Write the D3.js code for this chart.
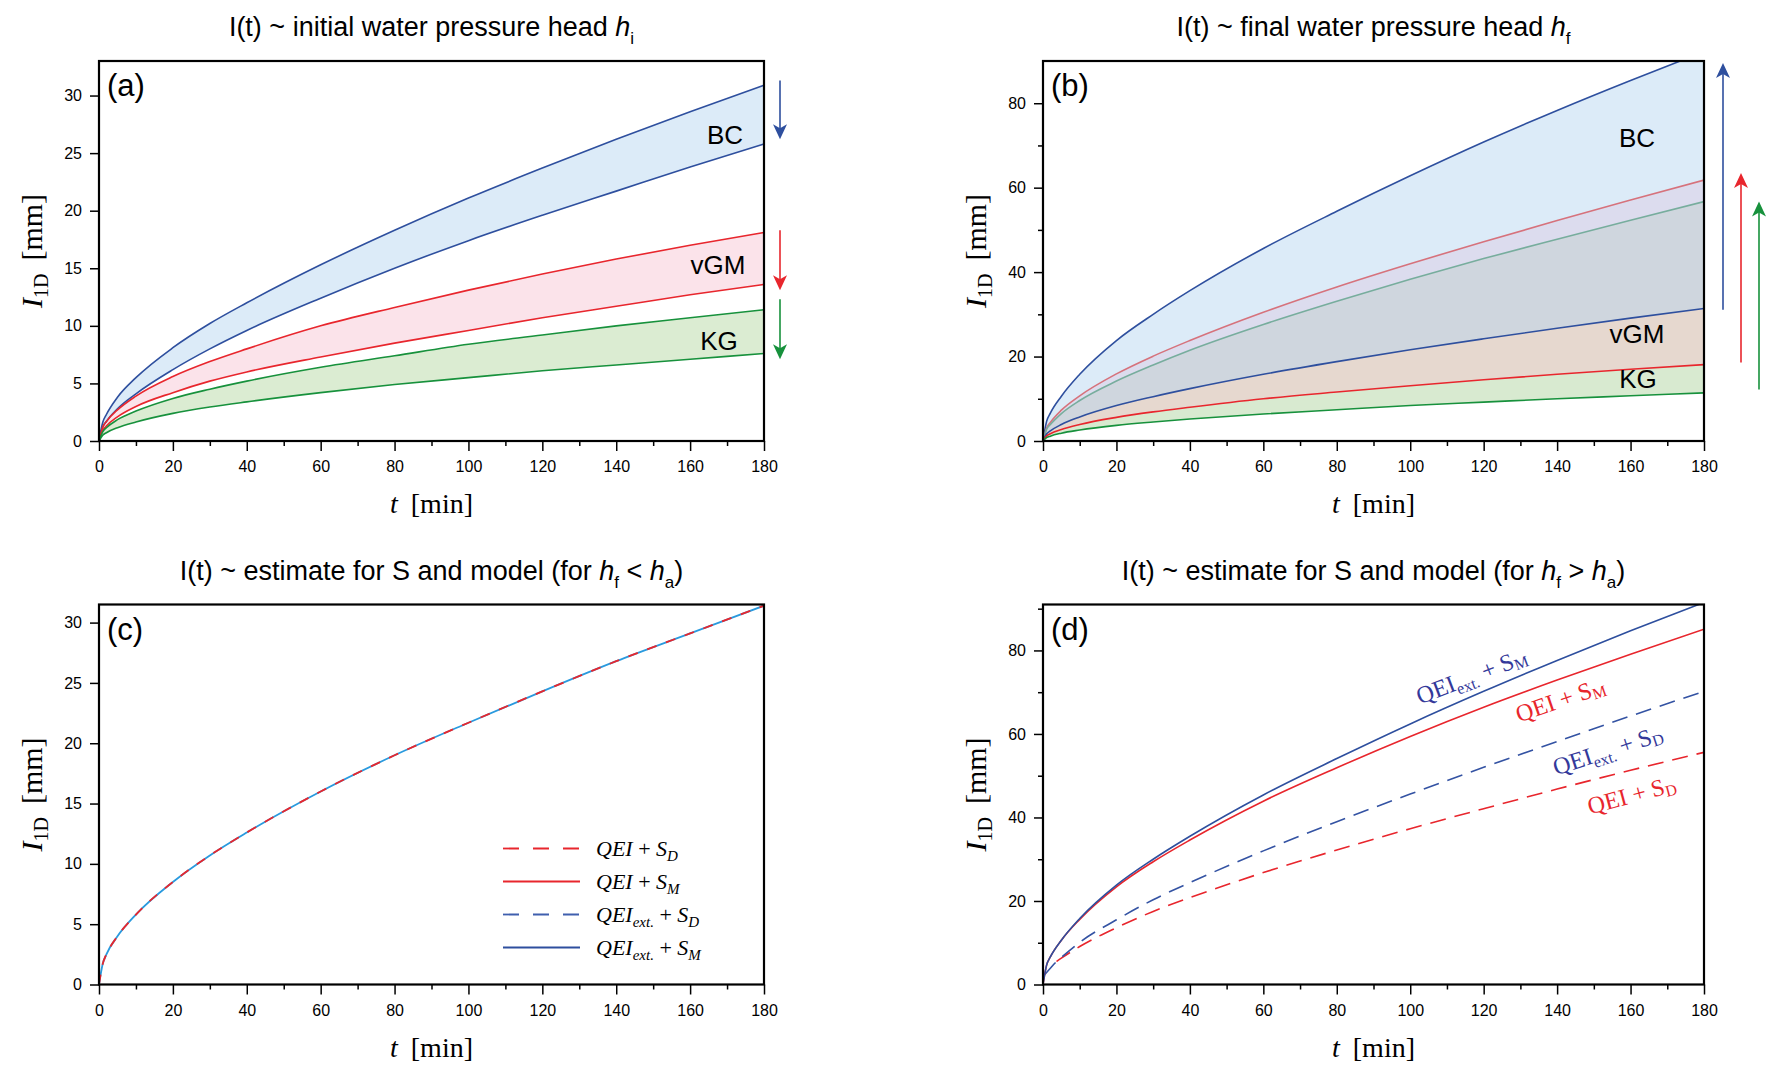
<!DOCTYPE html>
<html>
<head>
<meta charset="utf-8">
<script src="https://cdn.jsdelivr.net/npm/d3@7"></script>
<style>
  body { margin: 0; background: #fff; }
  svg { display: block; font-family: "Liberation Sans", Arial, sans-serif; }
  .tick text { font-size: 16px; fill: #000; font-family: "Liberation Sans", Arial, sans-serif; }
  .tick line { stroke: #000; stroke-width: 1.5; }
  .serif { font-family: "Liberation Serif", "Times New Roman", serif; }
</style>
</head>
<body>
<svg id="chart" width="1787" height="1083"></svg>
<script>
// time grid (min)
var tGrid = [0, 1, 2, 5, 10, 20, 30, 40, 60, 80, 100, 120, 140, 160, 180];

// (a) initial pressure head
var aBcUpper  = [0, 1.6, 2.3, 3.8, 5.5, 8.1, 10.2, 12.0, 15.3, 18.3, 21.1, 23.7, 26.2, 28.6, 30.9];
var aBcLower  = [0, 1.2, 1.7, 2.8, 4.1, 6.2, 8.0, 9.6, 12.4, 15.0, 17.4, 19.6, 21.7, 23.8, 25.8];
var aVgmUpper = [0, 1.2, 1.7, 2.7, 3.9, 5.6, 6.9, 8.0, 10.0, 11.6, 13.1, 14.5, 15.8, 17.0, 18.1];
var aVgmLower = [0, 0.9, 1.3, 2.1, 3.0, 4.2, 5.2, 6.0, 7.3, 8.5, 9.6, 10.7, 11.7, 12.7, 13.6];
var aKgUpper  = [0, 0.8, 1.15, 1.85, 2.6, 3.7, 4.5, 5.2, 6.4, 7.4, 8.4, 9.2, 10.0, 10.7, 11.4];
var aKgLower  = [0, 0.5, 0.72, 1.15, 1.65, 2.4, 2.95, 3.4, 4.2, 4.9, 5.5, 6.1, 6.6, 7.1, 7.6];

// (b) final pressure head
var bBcUpper  = [0, 4.7, 6.6, 10.6, 15.8, 23.8, 30.0, 35.6, 45.6, 54.4, 62.8, 70.8, 78.3, 85.4, 92.2];
var bVgmUpper = [0, 3.1, 4.4, 7.3, 10.7, 15.9, 20.1, 23.8, 30.5, 36.5, 42.0, 47.2, 52.2, 57.1, 61.8];
var bKgUpper  = [0, 2.8, 3.9, 6.5, 9.6, 14.2, 18.0, 21.5, 27.6, 33.1, 38.3, 43.2, 47.8, 52.3, 56.7];
var bBcLower  = [0, 1.7, 2.4, 3.9, 5.7, 8.4, 10.5, 12.4, 15.8, 18.8, 21.6, 24.2, 26.7, 29.1, 31.4];
var bVgmLower = [0, 1.2, 1.7, 2.7, 3.9, 5.6, 6.9, 8.0, 10.0, 11.6, 13.1, 14.5, 15.8, 17.0, 18.1];
var bKgLower  = [0, 0.8, 1.15, 1.85, 2.6, 3.7, 4.5, 5.2, 6.4, 7.4, 8.4, 9.2, 10.0, 10.7, 11.4];

// (c) h_f < h_a : all four estimates coincide
var cCurve = [0, 1.7, 2.5, 4.0, 5.8, 8.5, 10.7, 12.6, 16.0, 19.0, 21.7, 24.3, 26.8, 29.1, 31.4];

// (d) h_f > h_a
var dExtSm = [0, 4.7, 6.6, 10.6, 15.8, 23.8, 30.0, 35.5, 45.4, 54.1, 62.4, 70.2, 77.6, 84.7, 91.5];
var dQeiSm = [0, 4.7, 6.6, 10.6, 15.6, 23.4, 29.4, 34.6, 43.9, 51.9, 59.4, 66.4, 72.9, 79.1, 85.1];
var dExtSdT = [0.5, 2, 3.7, 5, 10, 20, 30, 40, 60, 80, 100, 120, 140, 160, 180];
var dExtSd  = [2.4, 3.9, 5.5, 6.5, 10.1, 15.5, 20.3, 24.4, 32.0, 39.0, 45.6, 52.0, 58.2, 64.3, 70.2];
var dQeiSdT = [3.7, 5, 10, 20, 30, 40, 60, 80, 100, 120, 140, 160, 180];
var dQeiSd  = [5.5, 6.3, 9.1, 13.6, 17.5, 20.8, 26.8, 32.2, 37.3, 42.1, 46.8, 51.3, 55.6];

// ticks
var xTicks = [0, 20, 40, 60, 80, 100, 120, 140, 160, 180];
var xMinor = [10, 30, 50, 70, 90, 110, 130, 150, 170];
var yTicks30 = [0, 5, 10, 15, 20, 25, 30];
var yTicks80 = [0, 20, 40, 60, 80];
var bYMinor = [10, 30, 50, 70];
var dYMinor = [10, 30, 50, 70, 90];

var BLUE = '#2e4f9e', RED = '#e8262d', GREEN = '#17913c';

var svg = d3.select('#chart');
var defs = svg.append('defs');

function zip(ts, vs) {
    return ts.map(function(t, i){ return {t: t, v: vs[i]}; });
}

function makePanel(id, left, top, w, h, yMax, yTicks, yMinor) {
    var p = {};
    p.x = d3.scaleLinear().domain([0, 180]).range([0, w]);
    p.y = d3.scaleLinear().domain([0, yMax]).range([h, 0]);
    p.g = svg.append('g').attr('transform', 'translate(' + left + ',' + top + ')');
    p.w = w; p.h = h;

    defs.append('clipPath').attr('id', 'clip-' + id)
        .append('rect').attr('width', w).attr('height', h);
    p.plot = p.g.append('g').attr('clip-path', 'url(#clip-' + id + ')');

    p.line = d3.line().x(function(d){ return p.x(d.t); }).y(function(d){ return p.y(d.v); })
        .curve(d3.curveMonotoneX);
    p.area = d3.area().x(function(d){ return p.x(d.t); })
        .y0(function(d){ return p.y(d.lo); }).y1(function(d){ return p.y(d.hi); })
        .curve(d3.curveMonotoneX);

    // axes
    p.g.append('g').attr('transform', 'translate(0,' + h + ')')
        .call(d3.axisBottom(p.x).tickValues(xTicks).tickSize(10).tickPadding(10))
        .call(function(g){ g.select('.domain').remove(); });
    p.g.append('g').attr('transform', 'translate(0,' + h + ')')
        .call(d3.axisBottom(p.x).tickValues(xMinor).tickSize(5).tickFormat(''))
        .call(function(g){ g.select('.domain').remove(); });
    p.g.append('g')
        .call(d3.axisLeft(p.y).tickValues(yTicks).tickSize(9).tickPadding(8))
        .call(function(g){ g.select('.domain').remove(); });
    if (yMinor) {
        p.g.append('g')
            .call(d3.axisLeft(p.y).tickValues(yMinor).tickSize(5).tickFormat(''))
            .call(function(g){ g.select('.domain').remove(); });
    }

    // axis titles
    var xl = p.g.append('text').attr('class', 'serif')
        .attr('x', w / 2).attr('y', h + 72)
        .attr('text-anchor', 'middle').style('font-size', '28px');
    xl.append('tspan').style('font-style', 'italic').text('t');
    xl.append('tspan').attr('dx', 13).text('[min]');

    var yl = p.g.append('text').attr('class', 'serif')
        .attr('transform', 'translate(' + (-57) + ',' + (h / 2) + ')rotate(-90)')
        .attr('text-anchor', 'middle').style('font-size', '30px');
    yl.append('tspan').style('font-style', 'italic').text('I');
    yl.append('tspan').attr('dy', 6).style('font-size', '20px').text('1D');
    yl.append('tspan').attr('dy', -6).attr('dx', 13).text('[mm]');
    return p;
}

function frame(p) {
    p.g.append('rect').attr('width', p.w).attr('height', p.h)
        .attr('fill', 'none').attr('stroke', '#000').attr('stroke-width', 2.2);
}

function title(p, parts) {
    var t = p.g.append('text').attr('x', p.w / 2).attr('y', -25)
        .attr('text-anchor', 'middle').style('font-size', '27px');
    parts.forEach(function(s){
        var ts = t.append('tspan').text(s.text);
        if (s.italic) ts.style('font-style', 'italic');
        if (s.sub) ts.attr('dy', 8).style('font-size', '17px');
        if (s.up) ts.attr('dy', -8);
    });
}

function panelLetter(p, s) {
    p.g.append('text').attr('x', 8).attr('y', 35).style('font-size', '31px').text(s);
}

function band(p, ts, hi, lo, color) {
    var data = ts.map(function(t, i){ return {t: t, hi: hi[i], lo: lo[i]}; });
    p.plot.append('path').datum(data).attr('d', p.area).attr('fill', color).attr('stroke', 'none');
}

function curve(p, ts, vs, color, dash, width) {
    var path = p.plot.append('path').datum(zip(ts, vs)).attr('d', p.line)
        .attr('fill', 'none').attr('stroke', color).attr('stroke-width', width || 1.6);
    if (dash) path.attr('stroke-dasharray', dash);
    return path;
}

function arrow(p, dx, v0, v1, color) {
    var x = p.w + dx, y0 = p.y(v0), y1 = p.y(v1);
    var dir = y1 > y0 ? 1 : -1;
    p.g.append('line').attr('x1', x).attr('x2', x).attr('y1', y0).attr('y2', y1 - dir * 8)
        .attr('stroke', color).attr('stroke-width', 1.6);
    p.g.append('path')
        .attr('d', 'M' + x + ',' + y1 + 'L' + (x - 7) + ',' + (y1 - dir * 15) + 'L' + x + ',' + (y1 - dir * 11) +
            'L' + (x + 7) + ',' + (y1 - dir * 15) + 'Z')
        .attr('fill', color);
}

function bigLabel(p, x, y, s) {
    p.g.append('text').attr('x', x).attr('y', y).attr('text-anchor', 'middle')
        .style('font-size', '26px').text(s);
}

// ---------- (a)
var pa = makePanel('a', 99, 61, 665, 380, 33, yTicks30, null);
band(pa, tGrid, aBcUpper, aBcLower, '#dcebf8');
band(pa, tGrid, aVgmUpper, aVgmLower, '#fbe3ea');
band(pa, tGrid, aKgUpper, aKgLower, '#dbecd2');
curve(pa, tGrid, aBcUpper, BLUE);
curve(pa, tGrid, aBcLower, BLUE);
curve(pa, tGrid, aVgmUpper, RED);
curve(pa, tGrid, aVgmLower, RED);
curve(pa, tGrid, aKgUpper, GREEN);
curve(pa, tGrid, aKgLower, GREEN);
frame(pa);
title(pa, [{text: 'I(t) ~ initial water pressure head '}, {text: 'h', italic: true}, {text: 'i', sub: true}]);
panelLetter(pa, '(a)');
bigLabel(pa, 626, 83, 'BC');
bigLabel(pa, 619, 213, 'vGM');
bigLabel(pa, 620, 289, 'KG');
arrow(pa, 16, 31.3, 26.2, BLUE);
arrow(pa, 16, 18.3, 13.1, RED);
arrow(pa, 16, 12.3, 7.1, GREEN);

// ---------- (b)
var pb = makePanel('b', 1043, 61, 661, 380, 90, yTicks80, bYMinor);
band(pb, tGrid, bBcUpper, bVgmUpper, '#dcebf8');
band(pb, tGrid, bVgmUpper, bKgUpper, '#dcdcee');
band(pb, tGrid, bKgUpper, bBcLower, '#cfd6de');
band(pb, tGrid, bBcLower, bVgmLower, '#e6d8cf');
band(pb, tGrid, bVgmLower, bKgLower, '#d8ead0');
curve(pb, tGrid, bBcUpper, BLUE);
curve(pb, tGrid, bVgmUpper, '#d6727c');
curve(pb, tGrid, bKgUpper, '#77ad9d');
curve(pb, tGrid, bBcLower, BLUE);
curve(pb, tGrid, bVgmLower, RED);
curve(pb, tGrid, bKgLower, GREEN);
frame(pb);
title(pb, [{text: 'I(t) ~ final water pressure head '}, {text: 'h', italic: true}, {text: 'f', sub: true}]);
panelLetter(pb, '(b)');
bigLabel(pb, 594, 86, 'BC');
bigLabel(pb, 594, 282, 'vGM');
bigLabel(pb, 595, 327, 'KG');
arrow(pb, 19, 31.1, 89.5, BLUE);
arrow(pb, 37, 18.6, 63.5, RED);
arrow(pb, 55, 12.2, 56.7, GREEN);

// ---------- (c)
var pc = makePanel('c', 99, 604.5, 665, 380, 31.5, yTicks30, null);
curve(pc, tGrid, cCurve, '#2a9ade', null, 1.8);
curve(pc, tGrid, cCurve, RED, '10,10', 1.8);
frame(pc);
title(pc, [{text: 'I(t) ~ estimate for S and model (for '}, {text: 'h', italic: true}, {text: 'f', sub: true},
    {text: ' < ', up: true}, {text: 'h', italic: true}, {text: 'a', sub: true}, {text: ')', up: true}]);
panelLetter(pc, '(c)');

var legendItems = [
    {main: 'QEI', ext: false, s: 'D', color: RED, dash: '16,14'},
    {main: 'QEI', ext: false, s: 'M', color: RED, dash: null},
    {main: 'QEI', ext: true, s: 'D', color: '#3f5fae', dash: '16,14'},
    {main: 'QEI', ext: true, s: 'M', color: BLUE, dash: null}
];
var lg = pc.g.append('g').attr('transform', 'translate(404,244)');
legendItems.forEach(function(d, i){
    var yy = i * 33;
    var ln = lg.append('line').attr('x1', 0).attr('x2', 77).attr('y1', yy).attr('y2', yy)
        .attr('stroke', d.color).attr('stroke-width', 1.8);
    if (d.dash) ln.attr('stroke-dasharray', d.dash);
    var tx = lg.append('text').attr('class', 'serif').attr('x', 93).attr('y', yy + 7)
        .style('font-size', '22px').style('font-style', 'italic');
    tx.append('tspan').text(d.main);
    if (d.ext) {
        tx.append('tspan').attr('dy', 5).style('font-size', '15px').text('ext.');
        tx.append('tspan').attr('dy', -5).style('font-style', 'normal').text(' + ');
    } else {
        tx.append('tspan').style('font-style', 'normal').text(' + ');
    }
    tx.append('tspan').text('S');
    tx.append('tspan').attr('dy', 5).style('font-size', '15px').text(d.s);
});

// ---------- (d)
var pd = makePanel('d', 1043, 604.5, 661, 380, 91, yTicks80, dYMinor);
curve(pd, dQeiSdT, dQeiSd, RED, '16,9');
curve(pd, dExtSdT, dExtSd, '#3453a3', '16,9');
curve(pd, tGrid, dQeiSm, RED);
curve(pd, tGrid, dExtSm, BLUE);
frame(pd);
title(pd, [{text: 'I(t) ~ estimate for S and model (for '}, {text: 'h', italic: true}, {text: 'f', sub: true},
    {text: ' > ', up: true}, {text: 'h', italic: true}, {text: 'a', sub: true}, {text: ')', up: true}]);
panelLetter(pd, '(d)');

var curveLabels = [
    {x: 377, y: 100, rot: -21, ext: true, s: 'M', color: '#34399a'},
    {x: 476, y: 118, rot: -19, ext: false, s: 'M', color: RED},
    {x: 513, y: 171, rot: -18, ext: true, s: 'D', color: '#34399a'},
    {x: 547, y: 210, rot: -15, ext: false, s: 'D', color: RED}
];
curveLabels.forEach(function(d){
    var tx = pd.g.append('text').attr('class', 'serif')
        .attr('transform', 'translate(' + d.x + ',' + d.y + ')rotate(' + d.rot + ')')
        .style('font-size', '24px').attr('fill', d.color);
    tx.append('tspan').text('QEI');
    if (d.ext) {
        tx.append('tspan').attr('dy', 5).style('font-size', '16px').text('ext.');
        tx.append('tspan').attr('dy', -5).text(' + S');
    } else {
        tx.append('tspan').text(' + S');
    }
    tx.append('tspan').attr('dy', 3).style('font-size', '16px').text(d.s);
});
</script>
</body>
</html>
